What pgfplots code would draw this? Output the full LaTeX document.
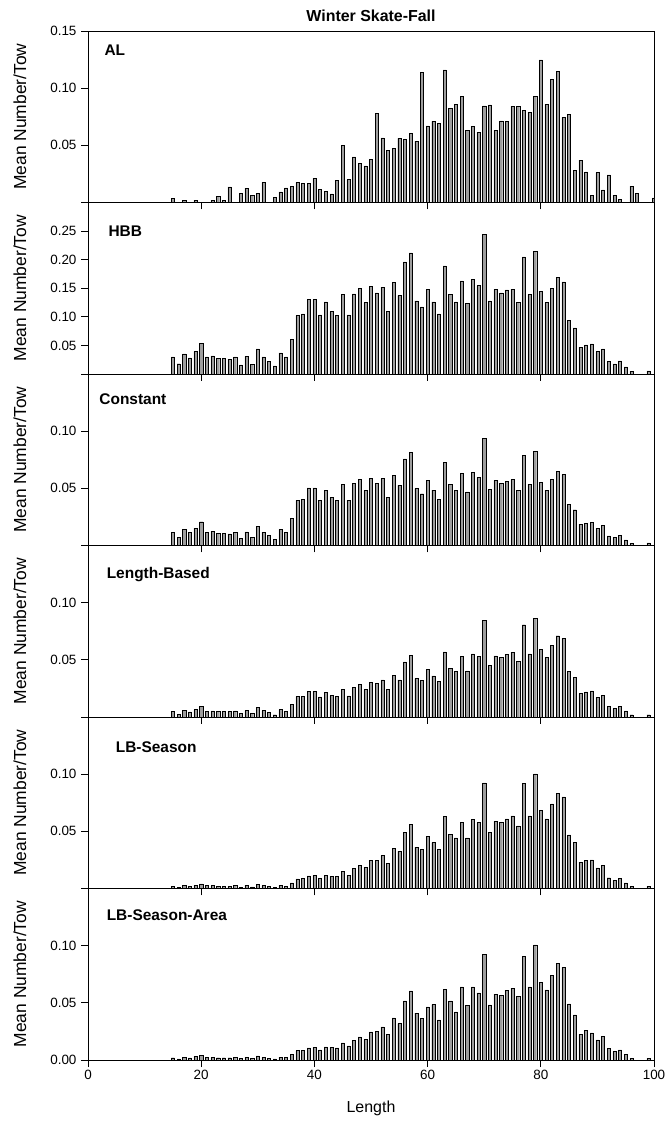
\documentclass[border=0pt]{standalone}
\usepackage{pgfplots}
\pgfplotsset{compat=1.18}
\usepackage{fontspec}
\setmainfont{Liberation Sans}
\newcommand\tickfont{\fontsize{13.5}{15}\selectfont}
\newcommand\panfont{\fontsize{15.5}{17}\selectfont\bfseries}
\pgfplotsset{
  panel/.style={
    scale only axis, width=566bp, height=171.5bp,
    anchor=south west,
    xmin=0, xmax=100, ymin=0,
    xtick={0,20,40,60,80,100},
    xticklabels={},
    x tick style={line width=0.8bp, black},
    y tick style={line width=0.8bp, black},
    ytick align=outside, ytick pos=left,
    xtick pos=bottom, xtick align=center,
    major tick length=7bp,
    axis line style={line width=0.8bp},
    yticklabel style={font=\tickfont, xshift=-1bp},
    xticklabel style={font=\tickfont},
    ybar, bar width=0.55,
    cycle list={{fill=black!38, draw=black, line width=0.7bp}},
  },
}
\begin{document}
\begin{tikzpicture}
\useasboundingbox (0,0) rectangle (668bp,1129bp);
% Panel 1: AL
\begin{axis}[panel, at={(88bp,926.5bp)}, ymax=0.15,
  ytick={0,0.05,0.10,0.15}, yticklabels={,0.05,0.10,0.15}]
\addplot coordinates {(15,0.0038)(17,0.002)(19,0.002)(22,0.002)(23,0.0055)(24,0.002)(25,0.0137)(27,0.008)(28,0.0125)(29,0.006)(30,0.008)(31,0.0175)(33,0.0047)(34,0.0093)(35,0.0128)(36,0.0143)(37,0.0175)(38,0.017)(39,0.017)(40,0.021)(41,0.0116)(42,0.010)(43,0.0076)(44,0.0195)(45,0.050)(46,0.020)(47,0.040)(48,0.034)(49,0.032)(50,0.038)(51,0.078)(52,0.0565)(53,0.0457)(54,0.0474)(55,0.056)(56,0.055)(57,0.0605)(58,0.0535)(59,0.114)(60,0.067)(61,0.071)(62,0.069)(63,0.116)(64,0.0826)(65,0.0858)(66,0.0928)(67,0.0631)(68,0.0663)(69,0.0614)(70,0.0844)(71,0.0853)(72,0.0631)(73,0.0713)(74,0.0707)(75,0.0841)(76,0.0841)(77,0.0806)(78,0.0788)(79,0.0928)(80,0.1248)(81,0.0858)(82,0.1076)(83,0.1146)(84,0.0745)(85,0.0771)(86,0.0282)(87,0.037)(88,0.0268)(89,0.0064)(90,0.0262)(91,0.011)(92,0.0241)(93,0.0064)(94,0.003)(96,0.0143)(97,0.0079)(100,0.004)};
\node[anchor=west, font=\panfont] at (rel axis cs:0.023,0.887) {AL};
\end{axis}
% Panel 2: HBB
\begin{axis}[panel, at={(88bp,755bp)}, ymax=0.30,
  ytick={0,0.05,0.10,0.15,0.20,0.25,0.30}, yticklabels={,0.05,0.10,0.15,0.20,0.25,}]
\addplot coordinates {(15,0.0298)(16,0.018)(17,0.035)(18,0.028)(19,0.039)(20,0.054)(21,0.030)(22,0.0316)(23,0.0275)(24,0.0275)(25,0.026)(26,0.030)(27,0.016)(28,0.031)(29,0.017)(30,0.044)(31,0.030)(32,0.022)(33,0.014)(34,0.037)(35,0.030)(36,0.061)(37,0.102)(38,0.105)(39,0.131)(40,0.130)(41,0.1035)(42,0.126)(43,0.109)(44,0.102)(45,0.139)(46,0.1035)(47,0.140)(48,0.150)(49,0.125)(50,0.153)(51,0.142)(52,0.152)(53,0.110)(54,0.160)(55,0.137)(56,0.196)(57,0.212)(58,0.128)(59,0.1176)(60,0.1486)(61,0.126)(62,0.105)(63,0.189)(64,0.139)(65,0.126)(66,0.163)(67,0.123)(68,0.1656)(69,0.1545)(70,0.244)(71,0.128)(72,0.148)(73,0.142)(74,0.147)(75,0.1486)(76,0.125)(77,0.205)(78,0.139)(79,0.214)(80,0.144)(81,0.125)(82,0.150)(83,0.1685)(84,0.161)(85,0.0936)(86,0.0807)(87,0.047)(88,0.051)(89,0.0527)(90,0.039)(91,0.044)(92,0.0216)(93,0.0176)(94,0.0228)(95,0.0123)(96,0.0047)(99,0.0053)};
\node[anchor=west, font=\panfont] at (rel axis cs:0.030,0.834) {HBB};
\end{axis}
% Panel 3: Constant
\begin{axis}[panel, at={(88bp,583.5bp)}, ymax=0.15,
  ytick={0,0.05,0.10,0.15}, yticklabels={,0.05,0.10,}]
\addplot coordinates {(15,0.0117)(16,0.0070)(17,0.0140)(18,0.0114)(19,0.0152)(20,0.0208)(21,0.0117)(22,0.0123)(23,0.0108)(24,0.0108)(25,0.0102)(26,0.0117)(27,0.0064)(28,0.012)(29,0.007)(30,0.017)(31,0.0117)(32,0.0088)(33,0.0053)(34,0.014)(35,0.0117)(36,0.0237)(37,0.0395)(38,0.0404)(39,0.0503)(40,0.0503)(41,0.0395)(42,0.0482)(43,0.0421)(44,0.0395)(45,0.0532)(46,0.0395)(47,0.0541)(48,0.0579)(49,0.0482)(50,0.0588)(51,0.0544)(52,0.0585)(53,0.0421)(54,0.0614)(55,0.0526)(56,0.0757)(57,0.0813)(58,0.0497)(59,0.0453)(60,0.057)(61,0.0485)(62,0.0404)(63,0.0725)(64,0.0532)(65,0.0485)(66,0.0632)(67,0.047)(68,0.0637)(69,0.0596)(70,0.0939)(71,0.0491)(72,0.057)(73,0.0544)(74,0.0561)(75,0.0576)(76,0.0482)(77,0.079)(78,0.0535)(79,0.0825)(80,0.0553)(81,0.0482)(82,0.0579)(83,0.0646)(84,0.062)(85,0.036)(86,0.0313)(87,0.0187)(88,0.0196)(89,0.0205)(90,0.0149)(91,0.0175)(92,0.0085)(93,0.007)(94,0.0088)(95,0.005)(96,0.0018)(99,0.0023)};
\node[anchor=west, font=\panfont] at (rel axis cs:0.014,0.851) {Constant};
\end{axis}
% Panel 4: Length-Based
\begin{axis}[panel, at={(88bp,412bp)}, ymax=0.15,
  ytick={0,0.05,0.10,0.15}, yticklabels={,0.05,0.10,}]
\addplot coordinates {(15,0.0047)(16,0.0026)(17,0.0056)(18,0.0044)(19,0.0064)(20,0.0091)(21,0.0047)(22,0.0053)(23,0.0047)(24,0.0047)(25,0.0047)(26,0.0053)(27,0.0029)(28,0.0056)(29,0.0029)(30,0.0082)(31,0.0056)(32,0.0038)(33,0.002)(34,0.0064)(35,0.005)(36,0.0108)(37,0.0178)(38,0.0178)(39,0.0222)(40,0.0222)(41,0.0175)(42,0.0213)(43,0.0187)(44,0.0178)(45,0.0243)(46,0.0184)(47,0.026)(48,0.0284)(49,0.024)(50,0.0301)(51,0.0292)(52,0.0325)(53,0.024)(54,0.0363)(55,0.0325)(56,0.0482)(57,0.0538)(58,0.0336)(59,0.0319)(60,0.0415)(61,0.036)(62,0.031)(63,0.057)(64,0.0424)(65,0.0398)(66,0.0529)(67,0.0404)(68,0.0553)(69,0.0529)(70,0.0848)(71,0.045)(72,0.0535)(73,0.0523)(74,0.0547)(75,0.0567)(76,0.0485)(77,0.0807)(78,0.0553)(79,0.0865)(80,0.0591)(81,0.052)(82,0.0626)(83,0.0711)(84,0.0687)(85,0.0401)(86,0.0348)(87,0.0205)(88,0.0219)(89,0.0228)(90,0.017)(91,0.0187)(92,0.0091)(93,0.0073)(94,0.0091)(95,0.0053)(96,0.002)(99,0.002)};
\node[anchor=west, font=\panfont] at (rel axis cs:0.027,0.833) {Length-Based};
\end{axis}
% Panel 5: LB-Season
\begin{axis}[panel, at={(88bp,240.5bp)}, ymax=0.15,
  ytick={0,0.05,0.10,0.15}, yticklabels={,0.05,0.10,}]
\addplot coordinates {(15,0.0018)(16,0.0012)(17,0.0026)(18,0.002)(19,0.0029)(20,0.0041)(21,0.0026)(22,0.0026)(23,0.002)(24,0.002)(25,0.002)(26,0.0026)(27,0.0012)(28,0.0029)(29,0.0015)(30,0.0038)(31,0.0026)(32,0.0018)(33,0.0012)(34,0.0029)(35,0.002)(36,0.005)(37,0.0085)(38,0.0091)(39,0.0111)(40,0.0114)(41,0.0091)(42,0.0117)(43,0.0105)(44,0.0105)(45,0.0152)(46,0.0117)(47,0.0175)(48,0.0202)(49,0.0184)(50,0.0246)(51,0.0249)(52,0.0287)(53,0.0222)(54,0.0351)(55,0.0325)(56,0.0494)(57,0.0564)(58,0.036)(59,0.0342)(60,0.0456)(61,0.0401)(62,0.0345)(63,0.0629)(64,0.0471)(65,0.0442)(66,0.0579)(67,0.0442)(68,0.0605)(69,0.0576)(70,0.0924)(71,0.0494)(72,0.0588)(73,0.0576)(74,0.0608)(75,0.0635)(76,0.0547)(77,0.0921)(78,0.0635)(79,0.1003)(80,0.0684)(81,0.0608)(82,0.074)(83,0.0833)(84,0.0801)(85,0.0468)(86,0.0401)(87,0.0231)(88,0.0246)(89,0.0251)(90,0.0181)(91,0.0202)(92,0.0094)(93,0.0073)(94,0.0091)(95,0.005)(96,0.0018)(99,0.0018)};
\node[anchor=west, font=\panfont] at (rel axis cs:0.043,0.825) {LB-Season};
\end{axis}
% Panel 6: LB-Season-Area
\begin{axis}[panel, at={(88bp,69bp)}, ymax=0.15,
  ytick={0,0.05,0.10,0.15}, yticklabels={0.00,0.05,0.10,},
  xtick align=outside, xticklabels={0,20,40,60,80,100}]
\addplot coordinates {(15,0.002)(16,0.0009)(17,0.0023)(18,0.0018)(19,0.0029)(20,0.0041)(21,0.0023)(22,0.0023)(23,0.002)(24,0.002)(25,0.002)(26,0.0023)(27,0.0012)(28,0.0026)(29,0.0012)(30,0.0035)(31,0.0023)(32,0.0015)(33,0.0009)(34,0.0026)(35,0.0023)(36,0.0047)(37,0.0082)(38,0.0082)(39,0.0105)(40,0.0111)(41,0.0088)(42,0.0114)(43,0.0111)(44,0.0105)(45,0.0149)(46,0.0123)(47,0.0173)(48,0.0202)(49,0.0181)(50,0.0246)(51,0.0249)(52,0.0289)(53,0.0222)(54,0.0368)(55,0.0319)(56,0.0518)(57,0.0605)(58,0.0409)(59,0.0365)(60,0.0465)(61,0.0485)(62,0.0351)(63,0.062)(64,0.0518)(65,0.0421)(66,0.064)(67,0.0477)(68,0.064)(69,0.0588)(70,0.0924)(71,0.0482)(72,0.0576)(73,0.0567)(74,0.0611)(75,0.0629)(76,0.0556)(77,0.0904)(78,0.064)(79,0.1006)(80,0.0681)(81,0.0614)(82,0.0743)(83,0.0845)(84,0.081)(85,0.0491)(86,0.0395)(87,0.0225)(88,0.026)(89,0.0237)(90,0.0175)(91,0.0208)(92,0.0102)(93,0.0073)(94,0.0088)(95,0.005)(96,0.0015)(99,0.0015)};
\node[anchor=west, font=\panfont] at (rel axis cs:0.027,0.846) {LB-Season-Area};
\end{axis}
% Titles and axis labels
\node[font=\fontsize{16}{18}\selectfont\bfseries] at (371bp,1113bp) {Winter Skate-Fall};
\node[font=\fontsize{16}{18}\selectfont] at (371bp,21bp) {Length};
\foreach \yc in {1012.25,840.75,669.25,497.75,326.25,154.75}{
  \node[rotate=90, font=\fontsize{17.5}{19}\selectfont] at (20bp,\yc bp) {Mean Number/Tow};
}
\end{tikzpicture}
\end{document}
